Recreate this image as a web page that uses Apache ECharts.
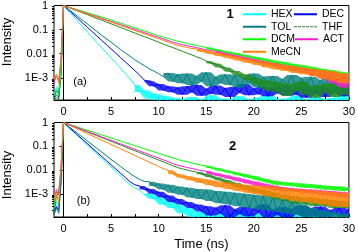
<!DOCTYPE html>
<html><head><meta charset="utf-8">
<script src="https://cdn.jsdelivr.net/npm/echarts@6/dist/echarts.min.js"></script>
<style>html,body{margin:0;padding:0;background:#fff}#c{width:358px;height:252px}</style>
</head><body><div id="c"></div>
<script>
// shared time grid (ns)
const T = [-1,-0.75,-0.5,-0.25,0,0.5,1,1.5,2,2.5,3,3.5,4,4.5,5,5.5,6,6.5,7,7.5,8,8.5,9,9.5,10,10.5,11,11.5,12,12.5,13,13.5,14,14.5,15,15.5,16,16.5,17,17.5,18,18.5,19,19.5,20,20.5,21,21.5,22,22.5,23,23.5,24,24.5,25,25.5,26,26.5,27,27.5,28,28.5,29,29.5,30];
const names = ['HEX','DEC','TOL','THF','DCM','ACT','MeCN'];
const xLabelValues = [0,5,10,15,20,25,30];
const xTickValues = [0,2.5,5,7.5,10,12.5,15,17.5,20,22.5,25,27.5,30];
const yLabelValues = [0.001,0.01,0.1,1];
const yMinorValues = [2e-4,3e-4,4e-4,5e-4,6e-4,7e-4,8e-4,9e-4,2e-3,3e-3,4e-3,5e-3,6e-3,7e-3,8e-3,9e-3,0.02,0.03,0.04,0.05,0.06,0.07,0.08,0.09,0.2,0.3,0.4,0.5,0.6,0.7,0.8,0.9];

// panel (a): compound 1
const hex1 = [2e-4,4e-4,2.5e-4,3e-3,
1,0.60,0.37,0.22,0.135,0.081,0.049,0.030,0.018,0.011,0.0066,0.0041,0.0025,0.0015,8.9e-4,5.0e-4,
2.6e-4,3.0e-4,1.4e-4,2.2e-4,1.0e-4,1.8e-4,9e-5,1.5e-4,8e-5,
1.3e-4,7e-5,1.6e-4,8e-5,1.2e-4,6e-5,1.9e-4,8e-5,1.4e-4,7e-5,1.3e-4,9e-5,1.7e-4,6e-5,1.2e-4,8e-5,1.5e-4,7e-5,2.1e-4,8e-5,1.3e-4,6e-5,1.4e-4,9e-5,1.8e-4,7e-5,1.2e-4,8e-5,1.6e-4,6e-5,1.3e-4,8e-5,1.5e-4,7e-5,1.9e-4,9e-5];
const dec1 = [1.5e-4,3e-4,2e-4,4e-3,
1,0.66,0.44,0.29,0.19,0.126,0.083,0.055,0.036,0.024,0.0158,0.0105,0.0069,0.0046,0.0030,0.0020,0.0013,
8e-4,7e-4,4.5e-4,5.5e-4,3e-4,4.5e-4,2.5e-4,4e-4,
2e-4,4.5e-4,2.5e-4,5e-4,1.8e-4,3.5e-4,2.2e-4,4.8e-4,2e-4,3.8e-4,1.6e-4,4.2e-4,2.4e-4,5.5e-4,1.9e-4,3.6e-4,2.1e-4,4.4e-4,1.7e-4,3.9e-4,2.3e-4,5.2e-4,1.8e-4,3.4e-4,2e-4,4.6e-4,1.5e-4,3.7e-4,2.2e-4,4.9e-4,1.6e-4,3.5e-4,2.4e-4,4.3e-4,1.7e-4,3.8e-4];
const tol1 = [1.3e-4,2e-4,1.5e-4,2e-3,
1,0.71,0.50,0.35,0.245,0.174,0.12,0.085,0.059,0.042,0.030,0.021,0.0148,0.0107,0.0078,0.0056,0.0042,0.0032,0.0024,0.0019,0.0015,
1.1e-3,1.6e-3,7e-4,1.4e-3,6e-4,1.5e-3,5e-4,1.2e-3,7e-4,1.7e-3,4.5e-4,1.1e-3,6e-4,1.4e-3,5e-4,1.3e-3,4e-4,1.0e-3,6e-4,1.5e-3,4e-4,1.1e-3,5e-4,1.2e-3,3.5e-4,9e-4,5e-4,1.3e-3,3e-4,1.0e-3,4.5e-4,1.1e-3,3e-4,8e-4,4e-4,1.2e-3,2.5e-4,9e-4,3.5e-4,1.0e-3];
const thf1 = [1.2e-4,1.5e-4,1.3e-4,1.5e-3,
1,0.84,0.70,0.59,0.50,0.42,0.35,0.29,0.247,0.207,0.174,0.146,0.122,0.103,0.086,0.072,0.061,0.051,0.043,0.036,0.030,0.025,0.021,0.018,0.015,0.0126,0.0106,0.0089,0.0074,0.0063,
0.0050,0.0040,0.0038,0.0027,0.0027,0.0018,0.0019,0.0012,0.0014,8e-4,1.0e-3,
5e-4,8e-4,3e-4,7e-4,2.5e-4,6e-4,1.8e-4,5.5e-4,3e-4,7e-4,2e-4,4.5e-4,1.5e-4,5e-4,2.5e-4,6e-4,1.6e-4,4e-4,2e-4,5e-4];
const dcm1 = [1.8e-4,3e-4,2e-4,2.5e-3,
1,0.87,0.76,0.66,0.575,0.50,0.44,0.38,0.33,0.29,0.25,0.216,0.186,0.16,0.138,0.119,0.102,0.088,0.076,0.065,0.056,0.049,0.043,0.0376,0.033,0.030,0.027,0.024,0.022,0.0197,
0.0185,0.0150,0.0152,0.0125,0.0127,0.0102,0.0106,0.0084,0.0089,0.0070,0.0075,0.0058,0.0063,0.0047,0.0052,0.0039,0.0045,0.0032,0.0038,0.0027,0.0033,0.0023,0.0029,0.0019,0.0024,0.0016,0.0021,0.0014,0.0018,0.0012,0.0016];
const act1 = [6e-4,1.2e-3,8e-4,6e-3,
1,0.86,0.74,0.63,0.545,0.47,0.40,0.345,0.296,0.255,0.219,0.188,0.161,0.139,0.119,0.102,0.088,0.0755,0.065,0.0557,0.048,0.041,0.0353,0.0303,0.0263,0.0238,0.0216,0.0196,0.0178,0.0161,0.0146,0.0132,
0.0128,0.0100,0.0105,0.0082,0.0086,0.0066,0.0071,0.0053,0.0059,0.0043,0.0049,0.0035,0.0041,0.0028,0.0035,0.0023,0.0030,0.0019,0.0026,0.0016,0.0023,0.0012,0.0020,9e-4,0.0017,6e-4,0.0015,4e-4,0.0013];
const mecn1 = [8e-4,1.4e-3,6e-4,8e-3,
1,0.85,0.73,0.62,0.53,0.45,0.385,0.33,0.28,0.24,0.204,0.174,0.149,0.127,0.108,0.092,0.079,0.067,0.057,0.049,0.042,0.0356,0.0303,0.0259,0.0221,0.020,0.0182,0.0164,
0.0158,0.0124,0.0132,0.0100,0.0110,0.0081,0.0092,0.0065,0.0076,0.0052,0.0064,0.0042,0.0054,0.0034,0.0046,0.0027,0.0040,0.0022,0.0034,0.0019,0.0031,0.0016,0.0027,0.0014,0.0024,0.0012,0.0021,9e-4,0.0019,7.5e-4,0.0016,6e-4,0.0015];

// panel (b): compound 2
const hex2 = [2e-4,5e-4,3e-4,4e-3,
1,0.65,0.42,0.275,0.178,0.115,0.075,0.049,0.0316,0.0205,0.0133,0.0087,0.0056,0.0036,0.0024,0.0018,0.0014,
9e-4,1.0e-3,6e-4,7e-4,3.5e-4,5e-4,2.5e-4,3.5e-4,1.5e-4,2.5e-4,
1.2e-4,7e-5,1.8e-4,8e-5,1.3e-4,6e-5,1.6e-4,8e-5,1.2e-4,7e-5,2e-4,9e-5,1.3e-4,6e-5,1.5e-4,8e-5,1.1e-4,7e-5,1.7e-4,8e-5,1.3e-4,6e-5,1.4e-4,9e-5,1.9e-4,7e-5,1.2e-4,8e-5,1.6e-4,6e-5,1.3e-4,8e-5,1.5e-4,7e-5];
const dec2 = [1.5e-4,3e-4,2e-4,5e-3,
1,0.66,0.44,0.29,0.194,0.129,0.0855,0.0568,0.0377,0.025,0.0166,0.011,0.0073,0.0049,0.0032,0.0024,
0.0021,0.0015,0.0016,0.0010,0.0012,7e-4,8.5e-4,4.5e-4,6e-4,3.5e-4,4.5e-4,2.5e-4,3.5e-4,
1.8e-4,3e-4,1.2e-4,2.6e-4,1.5e-4,3.3e-4,1e-4,2.2e-4,1.4e-4,2.8e-4,1.1e-4,2.4e-4,1.6e-4,3.5e-4,1e-4,2.1e-4,1.3e-4,2.7e-4,9e-5,2.3e-4,1.5e-4,3.1e-4,1.1e-4,2.5e-4,1.2e-4,2.9e-4,1e-4,2e-4,1.4e-4,2.6e-4,1.1e-4,2.3e-4];
const tol2 = [1.3e-4,2.5e-4,1.5e-4,3e-3,
1,0.70,0.49,0.343,0.24,0.168,0.1175,0.082,0.0575,0.040,0.028,0.020,0.0141,0.0100,0.0072,0.0052,0.0040,0.0033,
0.0032,0.0021,0.0027,0.0015,0.0024,0.0011,0.0020,9e-4,0.0018,7e-4,0.0016,6e-4,0.0015,5e-4,0.0013,4e-4,0.0012,3.5e-4,0.0011,3e-4,0.0010,2.5e-4,9e-4,2.2e-4,8e-4,2e-4,7e-4,1.8e-4,5.5e-4,1.5e-4,4.5e-4,1.3e-4,3.5e-4,1.1e-4,2.5e-4,9e-5,2e-4,8e-5,1.8e-4,8e-5,1.5e-4,9e-5,1.4e-4];
const thf2 = [1.5e-4,8e-4,1.2e-3,0.01,
1,0.83,0.695,0.58,0.483,0.403,0.336,0.28,0.233,0.195,0.162,0.135,0.113,0.094,0.078,0.065,0.0545,0.0454,0.0378,0.0316,0.0263,0.0219,0.0182,0.0151,0.0126,0.0112,0.0100,0.0089,
0.0082,0.0066,0.0066,0.0050,0.0050,0.0036,0.0038,0.0026,0.0029,0.0019,0.0022,0.0014,0.0017,0.0011,0.0014,8e-4,0.0011,6e-4,9e-4,5e-4,8e-4,4e-4,7e-4,3.5e-4,7e-4,3e-4,6e-4,3e-4,5.5e-4,2.5e-4,5e-4,2.5e-4,4.5e-4];
const dcm2 = [3e-4,1.0e-3,1.3e-3,0.012,
1,0.86,0.74,0.64,0.55,0.47,0.41,0.35,0.30,0.26,0.224,0.193,0.166,0.143,0.123,0.106,0.091,0.0785,0.0676,0.0582,0.050,0.0432,0.0372,0.032,0.0275,0.0247,0.0221,0.020,0.0178,0.0159,
0.0150,0.0120,0.0121,0.0096,0.0098,0.0076,0.0080,0.0060,0.0066,0.0048,0.0054,0.0038,0.0043,0.0030,0.0035,0.0024,0.0031,0.0022,0.0029,0.0020,0.0027,0.0018,0.0025,0.0017,0.0023,0.0015,0.0021,0.0014,0.0020,0.0013,0.0018];
const act2 = [6e-4,1.5e-3,9e-4,0.015,
1,0.84,0.71,0.60,0.50,0.42,0.355,0.30,0.25,0.211,0.178,0.15,0.126,0.106,0.089,0.075,0.063,0.053,0.0447,0.0376,0.0316,0.0266,0.0224,0.0188,0.0158,0.0143,0.0128,0.0115,0.0104,0.0093,
0.0090,0.0068,0.0073,0.0054,0.0060,0.0043,0.0049,0.0034,0.0040,0.0027,0.0033,0.0021,0.0027,0.0017,0.0022,0.0014,0.0019,0.0013,0.0017,0.0012,0.0016,0.0011,0.0015,0.0010,0.0014,9e-4,0.0013,8e-4,0.0012,7e-4,0.0011];
const mecn2 = [5e-4,1.2e-3,4e-4,0.02,
1,0.81,0.65,0.53,0.427,0.345,0.279,0.225,0.182,0.147,0.119,0.096,0.078,0.063,0.0507,0.041,0.0331,0.0268,0.0216,0.0175,0.0141,0.0114,
0.0098,0.0068,0.0066,0.0047,0.0055,0.0037,0.0046,0.0029,0.0040,0.0023,0.0034,0.0019,0.0030,0.0016,0.0027,0.0013,0.0024,0.0011,0.0022,9.5e-4,0.0021,8e-4,0.0020,7e-4,0.0018,6e-4,0.0016,5e-4,0.0015,4.5e-4,0.0014,4e-4,0.0013,3.5e-4,0.0012,3e-4,0.0011,2.8e-4,0.0011];

// time (ns) after which each trace is dominated by noise (shaded as a dense band)
const noiseFrom = [[7.5,8.5,10.5,15,15,16,14],[8.5,8,9,14,15,15,11]];

const panels = [[hex1,dec1,tol1,thf1,dcm1,act1,mecn1],[hex2,dec2,tol2,thf2,dcm2,act2,mecn2]];
const colors = ['#00ffff','#0000ff','#008080','#1e8c1e','#00ff00','#ff1ad1','#ff8000'];
const FONT = '"Liberation Sans", Arial, sans-serif';
const grids = [{top:5,height:95},{top:122.5,height:97.5}];
const yMins = [1.2e-4,1.05e-4];

const fmtY = v => { const e = Math.round(Math.log10(v)); return e === 0 ? '1' : e === -1 ? '0.1' : e === -2 ? '0.01' : '1E' + e; };

function envelope(arr, t0) {
  const up = [], lo = [];
  for (let i = 0; i < T.length; i++) {
    if (T[i] < t0) continue;
    const b = arr[i];
    const a = (T[i] === t0 || i === 0) ? b : arr[i - 1];
    const c = (i === T.length - 1) ? b : arr[i + 1];
    up.push([T[i], Math.max(a, b, c)]);
    lo.push([T[i], Math.min(a, b, c)]);
  }
  return {up, lo};
}

const series = [];
panels.forEach((p, g) => p.forEach((arr, k) => {
  series.push({
    name: names[k], type: 'line', xAxisIndex: g, yAxisIndex: g * 2,
    data: T.map((t, i) => [t, arr[i]]), symbol: 'none', clip: true, silent: true,
    lineStyle: {width: 1, color: colors[k]}, itemStyle: {color: colors[k]}, z: 2 + k
  });
  const env = envelope(arr, noiseFrom[g][k]);
  series.push({
    name: names[k], type: 'custom', coordinateSystem: 'cartesian2d', xAxisIndex: g, yAxisIndex: g * 2,
    clip: true, silent: true, z: 2 + k, data: [[10, 0.01]], itemStyle: {color: colors[k]},
    renderItem: (params, api) => {
      const pts = env.up.map(q => api.coord(q)).concat(env.lo.slice().reverse().map(q => api.coord(q)));
      return {type: 'polygon', shape: {points: pts}, style: {fill: colors[k], opacity: 0.8}};
    }
  });
}));

const xAxis = [0, 1].map(g => ({
  type: 'value', gridIndex: g, min: -1, max: 30,
  axisLine: {show: true, onZero: false, lineStyle: {color: '#000', width: 1}},
  axisTick: {show: true, inside: true, length: 3, customValues: xTickValues, lineStyle: {color: '#000'}},
  axisLabel: {customValues: xLabelValues, fontSize: 11, color: '#000', margin: 6, fontFamily: FONT},
  splitLine: {show: false},
  name: g === 1 ? 'Time (ns)' : '', nameLocation: 'middle', nameGap: 21,
  nameTextStyle: {fontSize: 13, color: '#000', fontFamily: FONT}
}));
const yAxis = [];
[0, 1].forEach(g => {
  yAxis.push({
    type: 'log', logBase: 10, gridIndex: g, min: yMins[g], max: 1,
    axisLine: {show: true, lineStyle: {color: '#000', width: 1}},
    axisTick: {show: true, inside: false, length: 4, customValues: yLabelValues, lineStyle: {color: '#000'}},
    axisLabel: {customValues: yLabelValues, formatter: fmtY, fontSize: 11, color: '#000', margin: 6, fontFamily: FONT},
    splitLine: {show: false}
  });
  yAxis.push({
    type: 'log', logBase: 10, gridIndex: g, min: yMins[g], max: 1, position: 'left',
    axisLine: {show: false}, axisLabel: {show: false}, splitLine: {show: false},
    axisTick: {show: true, inside: false, length: 2, customValues: yMinorValues, lineStyle: {color: '#000'}}
  });
});

const dashIcon = 'path://M0,0h3v1h-3zM4,0h3v1h-3zM8,0h3v1h-3zM12,0h3v1h-3zM16,0h3v1h-3zM20,0h3v1h-3z';

const chart = echarts.init(document.getElementById('c'), null, {renderer: 'canvas'});
chart.setOption({
  animation: false,
  backgroundColor: '#fff',
  color: colors,
  grid: grids.map(gr => ({left: 54, right: 7.5, top: gr.top, height: gr.height, show: true, borderColor: '#000', borderWidth: 1, backgroundColor: 'transparent'})),
  xAxis, yAxis, series,
  legend: {
    left: 243, top: 8, width: 112, padding: 0, orient: 'horizontal',
    itemWidth: 23, itemHeight: 2, itemGap: 0,
    textStyle: {fontSize: 10.5, color: '#000', fontFamily: FONT, width: 23, lineHeight: 12.5},
    data: names.map((n, k) => ({name: n, icon: n === 'THF' ? dashIcon : 'rect', itemStyle: {color: colors[k]}}))
  },
  graphic: [
    {type: 'text', x: 7, y: 42, rotation: Math.PI / 2, style: {text: 'Intensity', fontSize: 13, fontFamily: FONT, fill: '#000', align: 'center', verticalAlign: 'middle'}},
    {type: 'text', x: 7, y: 175, rotation: Math.PI / 2, style: {text: 'Intensity', fontSize: 13, fontFamily: FONT, fill: '#000', align: 'center', verticalAlign: 'middle'}},
    {type: 'text', x: 230, y: 14.5, style: {text: '1', fontSize: 13, fontWeight: 'bold', fontFamily: FONT, fill: '#000', align: 'center', verticalAlign: 'middle'}},
    {type: 'text', x: 232.5, y: 146, style: {text: '2', fontSize: 13, fontWeight: 'bold', fontFamily: FONT, fill: '#000', align: 'center', verticalAlign: 'middle'}},
    {type: 'text', x: 80, y: 81.5, style: {text: '(a)', fontSize: 11, fontFamily: FONT, fill: '#000', align: 'center', verticalAlign: 'middle'}},
    {type: 'text', x: 83.5, y: 201, style: {text: '(b)', fontSize: 11, fontFamily: FONT, fill: '#000', align: 'center', verticalAlign: 'middle'}}
  ]
});
</script></body></html>
